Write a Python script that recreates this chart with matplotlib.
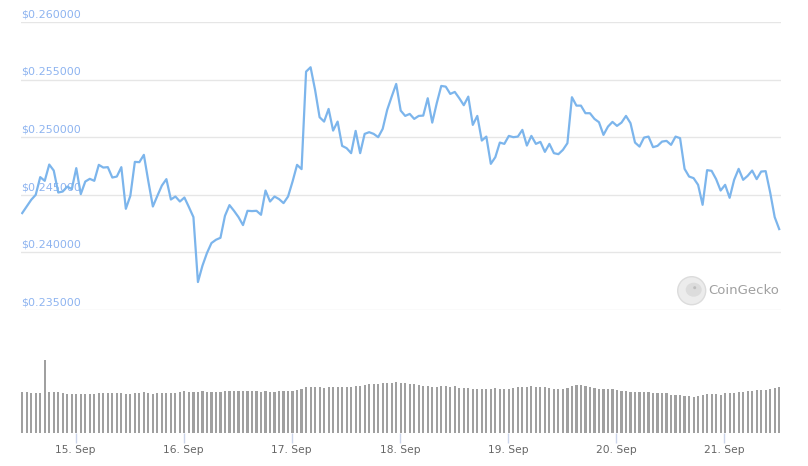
import numpy as np
import pandas as pd
import matplotlib
matplotlib.use('Agg')
import matplotlib.pyplot as plt
import matplotlib.dates as mdates
from matplotlib.patches import Ellipse

# ============================================================
# Data (hourly)
# ============================================================

start = '2021-09-14 12:10'

price = [
    0.243420, 0.243993, 0.244575, 0.245009, 0.246545, 0.246224, 0.247639, 0.247118,
    0.245208, 0.245295, 0.245729, 0.245503, 0.247326, 0.245069, 0.246163, 0.246398,
    0.246224, 0.247613, 0.247378, 0.247413, 0.246510, 0.246597, 0.247413, 0.243793,
    0.244922, 0.247873, 0.247847, 0.248481, 0.246163, 0.243993, 0.244922, 0.245816,
    0.246372, 0.244601, 0.244861, 0.244427, 0.244774, 0.243941, 0.243073,
    # 16 Sep dip
    0.237431, 0.238845, 0.239948, 0.240816, 0.241102, 0.241276, 0.243186, 0.244115,
    0.243620, 0.243073, 0.242378, 0.243620, 0.243594, 0.243620, 0.243273, 0.245382,
    0.244427,
    # 17 Sep spike
    0.244861, 0.244635, 0.244288, 0.244861, 0.246163, 0.247613, 0.247240, 0.255712,
    0.256094, 0.254123, 0.251753, 0.251372, 0.252474, 0.250590, 0.251372, 0.249262,
    0.249063, 0.248628, 0.250564, 0.248628, 0.250304, 0.250451, 0.250304, 0.250017,
    0.250738, 0.252387, 0.253542,
    # 18 Sep
    0.254644, 0.252326, 0.251866, 0.252040, 0.251606, 0.251866, 0.251892, 0.253403,
    0.251285, 0.252969, 0.254470, 0.254410, 0.253776, 0.253950, 0.253403, 0.252795,
    0.253542, 0.251085, 0.251866, 0.249722, 0.250069, 0.247700, 0.248281, 0.249549,
    0.249436, 0.250130, 0.250017, 0.250069,
    # 19 Sep - 21 Sep
    0.250651, 0.249288, 0.250130, 0.249436, 0.249609, 0.248741, 0.249436, 0.248628,
    0.248542, 0.248915, 0.249497, 0.253490, 0.252760, 0.252760, 0.252101, 0.252101,
    0.251606, 0.251319, 0.250217, 0.250937, 0.251345, 0.250998, 0.251285, 0.251866,
    0.251233, 0.249549, 0.249201, 0.249983, 0.250069, 0.249149, 0.249262, 0.249635,
    0.249696, 0.249349, 0.250069, 0.249931, 0.247266, 0.246597, 0.246458, 0.245877,
    0.244141, 0.247153, 0.247092, 0.246372, 0.245382, 0.245877, 0.244748, 0.246311,
    0.247266, 0.246311, 0.246658, 0.247118, 0.246372, 0.247031, 0.247066, 0.245208,
    0.243073, 0.242031,
]

# volume, relative units
volume = [
    123, 123, 120, 120, 120, 218, 123, 123, 123, 120,
    117, 117, 117, 117, 117, 117, 117, 120, 120, 120,
    120, 120, 120, 117, 117, 120, 120, 123, 120, 117,
    120, 120, 120, 120, 120, 123, 125, 123, 123, 123,
    125, 123, 123, 123, 123, 125, 125, 125, 125, 125,
    125, 125, 125, 123, 125, 123, 123, 125, 125, 125,
    125, 128, 131, 137, 137, 137, 137, 134, 137, 137,
    137, 137, 137, 137, 140, 140, 143, 146, 146, 146,
    149, 149, 149, 152,
    150, 150, 147, 147, 144, 142, 142, 138, 138, 140,
    140, 138, 140, 136, 134, 134, 132, 132, 132, 132,
    132, 134, 132, 132, 132, 136, 138, 138, 138, 140,
    138, 138, 138, 135, 132, 132, 132, 136, 140, 145,
    144, 142, 138, 136, 132, 132, 132, 132, 128, 126,
    125, 123, 123, 123, 123, 123, 120, 120, 120, 120,
    114, 114, 114, 112, 110, 108, 111, 114, 117, 117,
    117, 114, 120, 120, 120, 123, 123, 126, 126, 128,
    130, 130, 131, 134, 137,
]

t = pd.date_range(start, periods=len(price), freq='h')

price_ticks = [0.235, 0.240, 0.245, 0.250, 0.255, 0.260]
day_ticks = pd.date_range('2021-09-15', '2021-09-21', freq='D')

# ============================================================
# Figure
# ============================================================

W, H = 808, 466
fig = plt.figure(figsize=(W / 100, H / 100), dpi=100)

x0, x1 = 20.7 / W, 780.7 / W
ax = fig.add_axes([x0, 1 - 310 / H, x1 - x0, (310 - 22.3) / H])
axv = fig.add_axes([x0, 1 - 433.3 / H, x1 - x0, (433.3 - 360) / H], sharex=ax)

pad = pd.Timedelta(minutes=20)
ax.set_xlim(t[0] - pad, t[-1] + pad)

# price pane
for p in price_ticks:
    ax.axhline(p, color='#e6e6e6', linewidth=1, zorder=0)
    ax.text(t[0] - pad, p + 0.00025, '$%.6f' % p, color='#8eb4f0',
            fontsize=8, ha='left', va='bottom')
ax.plot(t, price, color='#7cb5ec', linewidth=1.6, zorder=3,
        solid_joinstyle='round')
ax.set_ylim(0.235, 0.260)
ax.axis('off')

# watermark (CoinGecko logo + name)
cx, cy = 691.7 / W, 1 - 290.7 / H
fig.patches.append(Ellipse((cx, cy), 28 / W, 28 / H, transform=fig.transFigure,
                           facecolor='#ececec', edgecolor='#dcdcdc',
                           linewidth=1, zorder=1))
fig.patches.append(Ellipse((cx + 2 / W, cy + 1 / H), 16 / W, 14 / H,
                           transform=fig.transFigure, facecolor='#dcdcdc',
                           edgecolor='none', zorder=2))
fig.patches.append(Ellipse((cx + 3 / W, cy + 3 / H), 3 / W, 3 / H,
                           transform=fig.transFigure, facecolor='#bdbdbd',
                           edgecolor='none', zorder=3))
fig.text(708 / W, 1 - 291 / H, 'CoinGecko', color='#a0a0a0',
         fontsize=9.5, ha='left', va='center')

# volume pane
axv.bar(t, volume, width=0.48 / 24, color='#a0a0a0', edgecolor='none',
        align='center')
axv.set_ylim(0, max(volume))
for s in axv.spines.values():
    s.set_visible(False)
axv.set_yticks([])
axv.set_xticks(day_ticks)
axv.xaxis.set_major_formatter(mdates.DateFormatter('%d. %b'))
axv.tick_params(axis='x', length=7.2, width=1, color='#ccd6eb',
                labelsize=7.7, labelcolor='#666666', pad=1.5)

fig.savefig('out.png', dpi=100, facecolor='white')
